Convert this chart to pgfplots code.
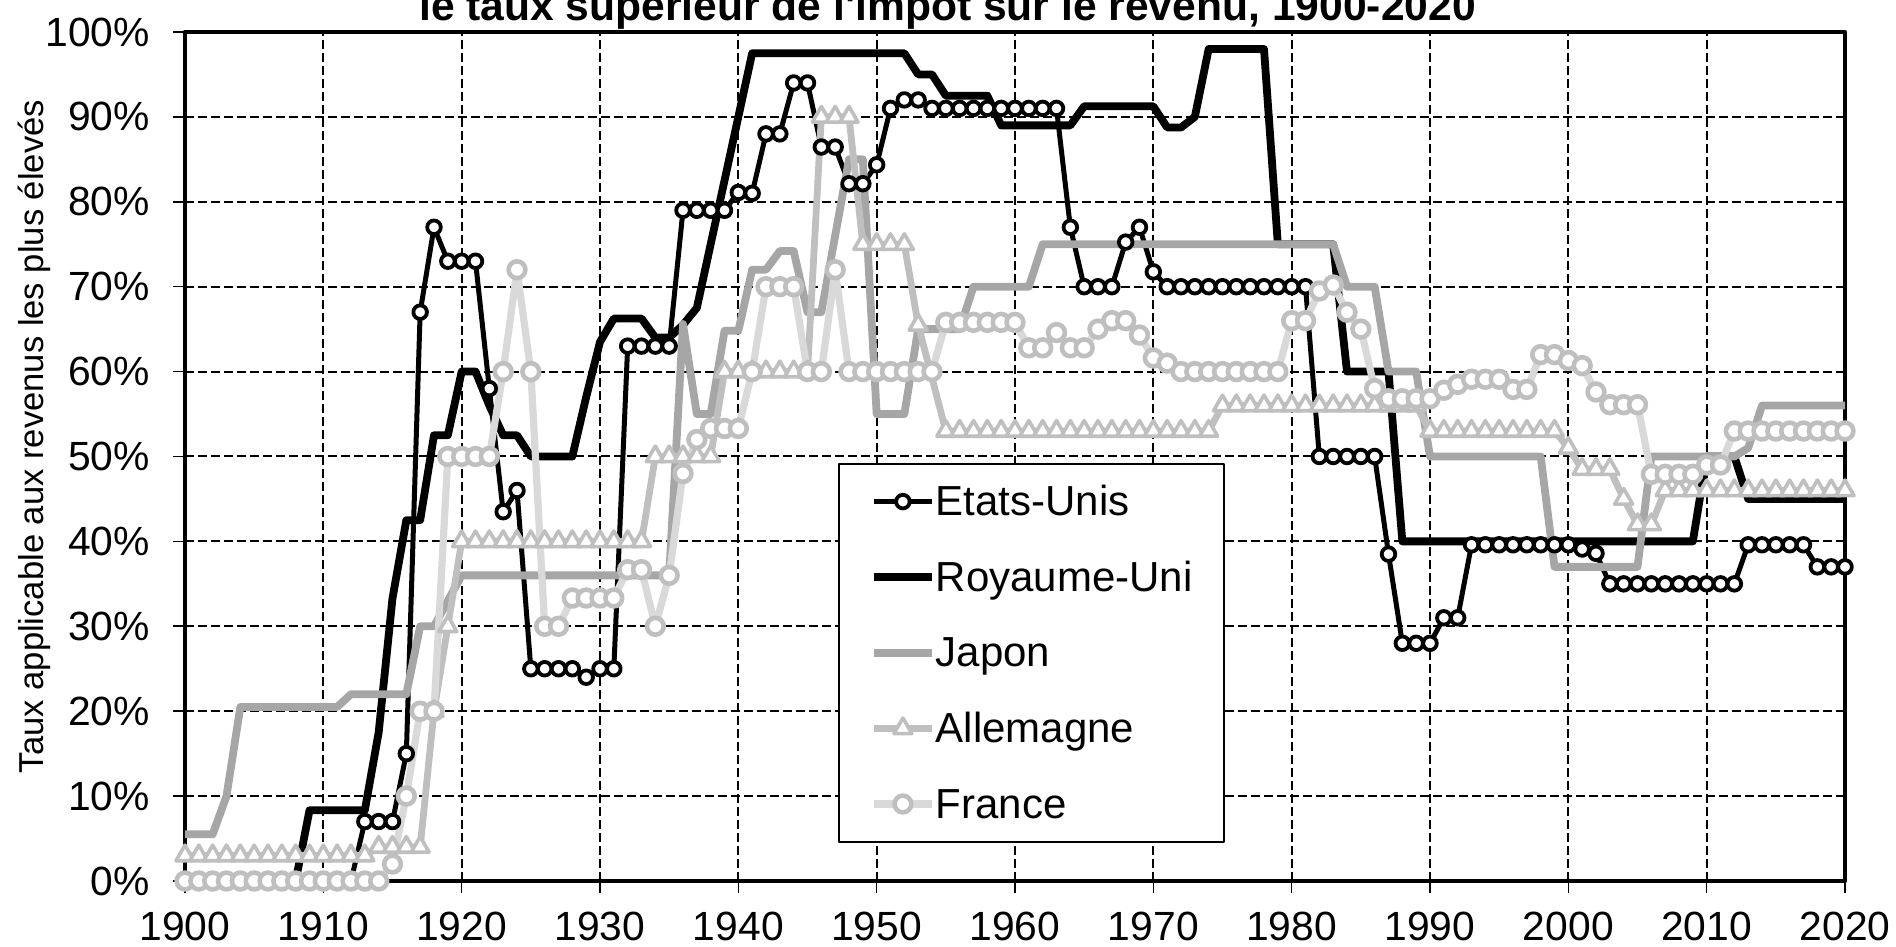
\documentclass[border=0pt]{standalone}
\usepackage{fontspec}
\setmainfont{Liberation Sans}
\usepackage{pgfplots}
\pgfplotsset{compat=1.18}
\usepackage{pgfplotstable}
\definecolor{jp}{HTML}{A6A6A6}
\definecolor{de}{HTML}{BFBFBF}
\definecolor{frl}{HTML}{D9D9D9}
\definecolor{frm}{HTML}{BFBFBF}

\pgfplotstableread{
year val
1912 0
1913 7
1914 7
1915 7
1916 15
1917 67
1918 77
1919 73
1920 73
1921 73
1922 58
1923 43.5
1924 46
1925 25
1926 25
1927 25
1928 25
1929 24
1930 25
1931 25
1932 63
1933 63
1934 63
1935 63
1936 79
1937 79
1938 79
1939 79
1940 81.1
1941 81
1942 88
1943 88
1944 94
1945 94
1946 86.45
1947 86.45
1948 82.13
1949 82.13
1950 84.36
1951 91
1952 92
1953 92
1954 91
1955 91
1956 91
1957 91
1958 91
1959 91
1960 91
1961 91
1962 91
1963 91
1964 77
1965 70
1966 70
1967 70
1968 75.25
1969 77
1970 71.75
1971 70
1972 70
1973 70
1974 70
1975 70
1976 70
1977 70
1978 70
1979 70
1980 70
1981 70
1982 50
1983 50
1984 50
1985 50
1986 50
1987 38.5
1988 28
1989 28
1990 28
1991 31
1992 31
1993 39.6
1994 39.6
1995 39.6
1996 39.6
1997 39.6
1998 39.6
1999 39.6
2000 39.6
2001 39.1
2002 38.6
2003 35
2004 35
2005 35
2006 35
2007 35
2008 35
2009 35
2010 35
2011 35
2012 35
2013 39.6
2014 39.6
2015 39.6
2016 39.6
2017 39.6
2018 37
2019 37
2020 37
}\US

\pgfplotstableread{
year val
1908 0
1909 8.33
1910 8.33
1911 8.33
1912 8.33
1913 8.33
1914 17.5
1915 33.3
1916 42.5
1917 42.5
1918 52.5
1919 52.5
1920 60
1921 60
1922 56
1923 52.5
1924 52.5
1925 50
1926 50
1927 50
1928 50
1929 57
1930 63.5
1931 66.25
1932 66.25
1933 66.25
1934 64
1935 64
1936 65.5
1937 67.5
1938 75
1939 82.5
1940 90
1941 97.5
1942 97.5
1943 97.5
1944 97.5
1945 97.5
1946 97.5
1947 97.5
1948 97.5
1949 97.5
1950 97.5
1951 97.5
1952 97.5
1953 95
1954 95
1955 92.5
1956 92.5
1957 92.5
1958 92.5
1959 89
1960 89
1961 89
1962 89
1963 89
1964 89
1965 91.25
1966 91.25
1967 91.25
1968 91.25
1969 91.25
1970 91.25
1971 88.75
1972 88.75
1973 90
1974 98
1975 98
1976 98
1977 98
1978 98
1979 75
1980 75
1981 75
1982 75
1983 75
1984 60
1985 60
1986 60
1987 60
1988 40
1989 40
1990 40
1991 40
1992 40
1993 40
1994 40
1995 40
1996 40
1997 40
1998 40
1999 40
2000 40
2001 40
2002 40
2003 40
2004 40
2005 40
2006 40
2007 40
2008 40
2009 40
2010 50
2011 50
2012 50
2013 45
2014 45
2015 45
2016 45
2017 45
2018 45
2019 45
2020 45
}\UK

\pgfplotstableread{
year val
1900 5.5
1901 5.5
1902 5.5
1903 10
1904 20.5
1905 20.5
1906 20.5
1907 20.5
1908 20.5
1909 20.5
1910 20.5
1911 20.5
1912 22
1913 22
1914 22
1915 22
1916 22
1917 30
1918 30
1919 33
1920 36
1921 36
1922 36
1923 36
1924 36
1925 36
1926 36
1927 36
1928 36
1929 36
1930 36
1931 36
1932 36
1933 36
1934 36
1935 36
1936 65.6
1937 55
1938 55
1939 64.8
1940 64.8
1941 72
1942 72
1943 74.2
1944 74.2
1945 67
1946 67
1947 76
1948 85
1949 85
1950 55
1951 55
1952 55
1953 65
1954 65
1955 65
1956 65
1957 70
1958 70
1959 70
1960 70
1961 70
1962 75
1963 75
1964 75
1965 75
1966 75
1967 75
1968 75
1969 75
1970 75
1971 75
1972 75
1973 75
1974 75
1975 75
1976 75
1977 75
1978 75
1979 75
1980 75
1981 75
1982 75
1983 75
1984 70
1985 70
1986 70
1987 60
1988 60
1989 60
1990 50
1991 50
1992 50
1993 50
1994 50
1995 50
1996 50
1997 50
1998 50
1999 37
2000 37
2001 37
2002 37
2003 37
2004 37
2005 37
2006 50
2007 50
2008 50
2009 50
2010 50
2011 50
2012 50
2013 51
2014 56
2015 56
2016 56
2017 56
2018 56
2019 56
2020 56
}\JP

\pgfplotstableread{
year val
1900 3
1901 3
1902 3
1903 3
1904 3
1905 3
1906 3
1907 3
1908 3
1909 3
1910 3
1911 3
1912 3
1913 3
1914 4
1915 4
1916 4
1917 4
1918 20
1919 30
1920 40
1921 40
1922 40
1923 40
1924 40
1925 40
1926 40
1927 40
1928 40
1929 40
1930 40
1931 40
1932 40
1933 40
1934 50
1935 50
1936 50
1937 50
1938 50
1939 60
1940 60
1941 60
1942 60
1943 60
1944 60
1945 60
1946 90
1947 90
1948 90
1949 75
1950 75
1951 75
1952 75
1953 65.5
1955 53
1956 53
1957 53
1958 53
1959 53
1960 53
1961 53
1962 53
1963 53
1964 53
1965 53
1966 53
1967 53
1968 53
1969 53
1970 53
1971 53
1972 53
1973 53
1974 53
1975 56
1976 56
1977 56
1978 56
1979 56
1980 56
1981 56
1982 56
1983 56
1984 56
1985 56
1986 56
1987 56
1988 56
1989 56
1990 53
1991 53
1992 53
1993 53
1994 53
1995 53
1996 53
1997 53
1998 53
1999 53
2000 51
2001 48.5
2002 48.5
2003 48.5
2004 45
2005 42
2006 42
2007 46
2008 46
2009 46
2010 46
2011 46
2012 46
2013 46
2014 46
2015 46
2016 46
2017 46
2018 46
2019 46
2020 46
}\DE

\pgfplotstableread{
year val
1900 0
1901 0
1902 0
1903 0
1904 0
1905 0
1906 0
1907 0
1908 0
1909 0
1910 0
1911 0
1912 0
1913 0
1914 0
1915 2
1916 10
1917 20
1918 20
1919 50
1920 50
1921 50
1922 50
1923 60
1924 72
1925 60
1926 30
1927 30
1928 33.33
1929 33.33
1930 33.33
1931 33.33
1932 36.67
1933 36.67
1934 30
1935 36
1936 48
1937 52
1938 53.3
1939 53.3
1940 53.3
1941 60
1942 70
1943 70
1944 70
1945 60
1946 60
1947 72
1948 60
1949 60
1950 60
1951 60
1952 60
1953 60
1954 60
1955 65.8
1956 65.8
1957 65.8
1958 65.8
1959 65.8
1960 65.8
1961 62.8
1962 62.8
1963 64.6
1964 62.8
1965 62.8
1966 65
1967 66
1968 66
1969 64.3
1970 61.6
1971 61
1972 60
1973 60
1974 60
1975 60
1976 60
1977 60
1978 60
1979 60
1980 66
1981 66
1982 69.5
1983 70.2
1984 67
1985 65
1986 58
1987 56.8
1988 56.8
1989 56.8
1990 56.8
1991 57.8
1992 58.5
1993 59.1
1994 59.1
1995 59.1
1996 57.9
1997 57.9
1998 62
1999 62
2000 61.3
2001 60.7
2002 57.6
2003 56.1
2004 56.1
2005 56.1
2006 47.9
2007 47.9
2008 47.9
2009 47.9
2010 49
2011 49
2012 53
2013 53
2014 53
2015 53
2016 53
2017 53
2018 53
2019 53
2020 53
}\FR

\begin{document}
\begin{tikzpicture}
\useasboundingbox (-92.5bp,-33bp) rectangle (855.5bp,440.5bp);
\clip (-92.5bp,-33bp) rectangle (855.5bp,440.5bp);
\begin{axis}[
  at={(0,0)}, anchor=south west,
  scale only axis, width=830bp, height=424.5bp,
  xmin=1900, xmax=2020, ymin=0, ymax=100,
  xtick={1900,1910,...,2020}, ytick={0,10,...,100},
  tick pos=left, tick align=outside,
  major tick length=6bp,
  tick style={black, line width=0.8bp},
  axis line style={black, line width=2.2bp},
  grid=major,
  major grid style={black, line width=1bp, dash pattern=on 4.5bp off 2bp},
  /pgf/number format/assume math mode=true,
  ticklabel style={font=\fontsize{20.4bp}{20.4bp}\selectfont},
  xticklabel style={/pgf/number format/1000 sep={}, yshift=-6bp},
  yticklabel style={xshift=-8bp},
  yticklabel={\pgfmathprintnumber{\tick}\%},
  ylabel={Taux applicable aux revenus les plus élevés},
  ylabel style={at={(axis description cs:-0.09096,0.52356)}, anchor=center, font=\fontsize{17.3bp}{17.3bp}\selectfont},
  legend cell align=left,
  legend image code/.code={\draw[mark repeat=2,mark phase=2,#1] plot coordinates {(0bp,0bp) (14.5bp,0bp) (29bp,0bp)};},
  legend style={at={(0.39337,0.04476)}, anchor=south west, draw=black, line width=1bp, fill=white,
    inner xsep=15.5bp, inner ysep=9bp, row sep=17.8bp,
    font=\fontsize{21bp}{21bp}\selectfont,
    nodes={inner sep=0pt, text height=17bp, text depth=3bp}},
  line join=round,
]
\addplot[black, line width=2.5bp, mark=*, mark size=3.4bp, mark options={fill=white, draw=black, line width=1.9bp, solid}] table[x=year,y=val] {\US};
\addlegendentry{Etats-Unis}
\addplot[black, line width=3.9bp] table[x=year,y=val] {\UK};
\addlegendentry{Royaume-Uni}
\addplot[jp, line width=3.9bp] table[x=year,y=val] {\JP};
\addlegendentry{Japon}
\addplot[de, line width=3.4bp, mark=triangle*, mark size=5.2bp, mark options={fill=white, draw=de, line width=1.8bp, solid}] table[x=year,y=val] {\DE};
\addlegendentry{Allemagne}
\addplot[frl, line width=3.6bp, mark=*, mark size=4.2bp, mark options={fill=white, draw=frm, line width=2.3bp, solid}] table[x=year,y=val] {\FR};
\addlegendentry{France}
\end{axis}
\node[anchor=base, font=\bfseries\fontsize{21.3bp}{21.3bp}\selectfont] at (381.25bp,430.25bp) {le taux supérieur de l\textquotesingle impôt sur le revenu, 1900-2020};
\end{tikzpicture}
\end{document}
